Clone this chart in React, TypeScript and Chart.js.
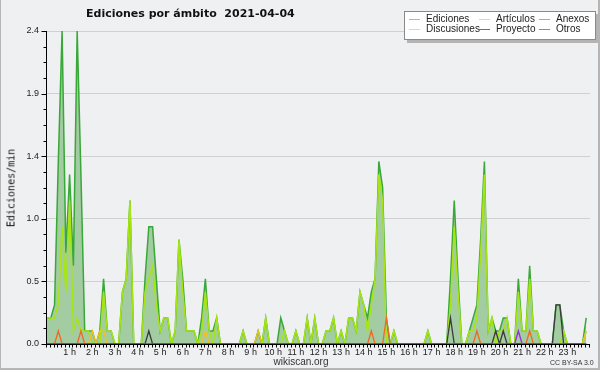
import React, { useEffect, useRef } from 'react';
import { Chart, registerables } from 'chart.js';

Chart.register(...registerables);

// 10-minute buckets, 00:00 .. 23:50, values in edits per minute
const ediciones = [
  0.2, 0.2, 0.3, 1.4, 2.4, 0.7, 1.3, 0.6, 2.4, 1.3, 0.1, 0.1,
  0.1, 0, 0.1, 0.5, 0.1, 0.1, 0, 0, 0.4, 0.5, 1.1, 0,
  0, 0, 0.5, 0.9, 0.9, 0.5, 0.1, 0.2, 0.2, 0, 0.1, 0.8,
  0.5, 0.1, 0.1, 0.1, 0, 0.2, 0.5, 0.1, 0.1, 0.2, 0, 0,
  0, 0, 0, 0, 0.1, 0, 0, 0, 0.1, 0, 0.2, 0,
  0, 0, 0.2, 0.1, 0, 0, 0.1, 0, 0, 0.2, 0, 0.2,
  0, 0, 0.1, 0.1, 0.2, 0, 0.1, 0, 0.2, 0.2, 0.1, 0.4,
  0.3, 0.2, 0.4, 0.5, 1.4, 1.2, 0.2, 0, 0.1, 0, 0, 0,
  0, 0, 0, 0, 0, 0.1, 0, 0, 0, 0, 0, 0.5,
  1.1, 0.5, 0, 0, 0.1, 0.2, 0.3, 0.8, 1.4, 0.1, 0.2, 0.1,
  0.1, 0.2, 0.2, 0, 0, 0.5, 0.1, 0.1, 0.6, 0.1, 0.1, 0,
  0, 0, 0, 0.3, 0.3, 0.1, 0, 0, 0, 0, 0, 0.2,
];

const articulos = [
  0.2, 0.2, 0.2, 0.3, 0.9, 0.4, 1.1, 0.1, 0.2, 0.1, 0.1, 0.1,
  0, 0, 0, 0.4, 0.1, 0.1, 0, 0, 0.4, 0.5, 1.1, 0,
  0, 0, 0.4, 0.5, 0.6, 0.3, 0.1, 0.2, 0.2, 0, 0.1, 0.8,
  0.4, 0.1, 0.1, 0.1, 0, 0.1, 0.4, 0.1, 0, 0.2, 0, 0,
  0, 0, 0, 0, 0.1, 0, 0, 0, 0, 0, 0.2, 0,
  0, 0, 0, 0.1, 0, 0, 0.1, 0, 0, 0.2, 0, 0.2,
  0, 0, 0.1, 0.1, 0.2, 0, 0.1, 0, 0.2, 0.2, 0.1, 0.4,
  0.3, 0.1, 0.3, 0.5, 1.3, 1.1, 0, 0, 0.1, 0, 0, 0,
  0, 0, 0, 0, 0, 0.1, 0, 0, 0, 0, 0, 0.3,
  0.9, 0.4, 0, 0, 0.1, 0.1, 0.2, 0.7, 1.3, 0.1, 0.2, 0,
  0.1, 0.1, 0.2, 0, 0, 0.4, 0.1, 0.1, 0.5, 0.1, 0.1, 0,
  0, 0, 0, 0, 0, 0.1, 0, 0, 0, 0, 0, 0.1,
];

const anexos = [
  0, 0, 0, 0.1, 0, 0, 0, 0, 0, 0.1, 0, 0,
  0, 0, 0, 0, 0, 0, 0, 0, 0, 0, 0, 0,
  0, 0, 0, 0, 0, 0, 0, 0, 0, 0, 0, 0,
  0, 0, 0, 0, 0, 0, 0, 0, 0, 0, 0, 0,
  0, 0, 0, 0, 0, 0, 0, 0, 0, 0, 0, 0,
  0, 0, 0, 0, 0, 0, 0, 0, 0, 0, 0, 0,
  0, 0, 0, 0, 0, 0, 0, 0, 0, 0, 0, 0,
  0, 0, 0.1, 0, 0, 0, 0.2, 0, 0, 0, 0, 0,
  0, 0, 0, 0, 0, 0, 0, 0, 0, 0, 0, 0,
  0, 0, 0, 0, 0, 0, 0.1, 0, 0, 0, 0, 0,
  0, 0, 0, 0, 0, 0, 0, 0, 0.1, 0, 0, 0,
  0, 0, 0, 0, 0, 0, 0, 0, 0, 0, 0, 0,
];

const discusiones = [
  0, 0, 0, 0, 0, 0, 0, 0, 0, 0, 0, 0,
  0.1, 0, 0.1, 0.1, 0, 0, 0, 0, 0, 0, 0, 0,
  0, 0, 0, 0, 0, 0, 0, 0, 0, 0, 0, 0,
  0, 0, 0, 0, 0, 0, 0.1, 0, 0, 0, 0, 0,
  0, 0, 0, 0, 0, 0, 0, 0, 0.1, 0, 0, 0,
  0, 0, 0, 0, 0, 0, 0, 0, 0, 0, 0, 0,
  0, 0, 0, 0, 0, 0, 0, 0, 0, 0, 0, 0,
  0, 0, 0, 0, 0, 0, 0, 0, 0, 0, 0, 0,
  0, 0, 0, 0, 0, 0, 0, 0, 0, 0, 0, 0,
  0, 0, 0, 0, 0, 0, 0, 0, 0, 0, 0, 0,
  0, 0, 0, 0, 0, 0, 0, 0, 0, 0, 0, 0,
  0, 0, 0, 0, 0, 0, 0, 0, 0, 0, 0, 0.1,
];

const proyecto = [
  0, 0, 0, 0, 0, 0, 0, 0, 0, 0, 0, 0,
  0, 0, 0, 0, 0, 0, 0, 0, 0, 0, 0, 0,
  0, 0, 0, 0.1, 0, 0, 0, 0, 0, 0, 0, 0,
  0, 0, 0, 0, 0, 0, 0, 0, 0, 0, 0, 0,
  0, 0, 0, 0, 0, 0, 0, 0, 0, 0, 0, 0,
  0, 0, 0, 0, 0, 0, 0, 0, 0, 0, 0, 0,
  0, 0, 0, 0, 0, 0, 0, 0, 0, 0, 0, 0,
  0, 0, 0, 0, 0, 0, 0, 0, 0, 0, 0, 0,
  0, 0, 0, 0, 0, 0, 0, 0, 0, 0, 0, 0.2,
  0, 0, 0, 0, 0, 0, 0, 0, 0, 0, 0, 0.1,
  0, 0.1, 0, 0, 0, 0, 0, 0, 0, 0, 0, 0,
  0, 0, 0, 0.3, 0.3, 0, 0, 0, 0, 0, 0, 0,
];

const otros = [
  0, 0, 0, 0, 0, 0, 0, 0, 0, 0, 0, 0,
  0, 0, 0, 0, 0, 0, 0, 0, 0, 0, 0, 0,
  0, 0, 0, 0, 0, 0, 0, 0, 0, 0, 0, 0,
  0, 0, 0, 0, 0, 0, 0, 0, 0, 0, 0, 0,
  0, 0, 0, 0, 0, 0, 0, 0, 0, 0, 0, 0,
  0, 0, 0, 0, 0, 0, 0, 0, 0, 0, 0, 0,
  0, 0, 0, 0, 0, 0, 0, 0, 0, 0, 0, 0,
  0, 0, 0, 0, 0, 0, 0, 0, 0, 0, 0, 0,
  0, 0, 0, 0, 0, 0, 0, 0, 0, 0, 0, 0,
  0, 0, 0, 0, 0, 0, 0, 0, 0, 0, 0, 0,
  0, 0, 0, 0, 0, 0.1, 0, 0, 0, 0, 0, 0,
  0, 0, 0, 0, 0, 0, 0, 0, 0, 0, 0, 0,
];

const hourLabels = [
  '1 h', '2 h', '3 h', '4 h', '5 h', '6 h', '7 h', '8 h', '9 h', '10 h', '11 h', '12 h',
  '13 h', '14 h', '15 h', '16 h', '17 h', '18 h', '19 h', '20 h', '21 h', '22 h', '23 h',
];

// y axis: major ticks every 0.48 (labelled), minor every 0.12
const yTickValues = [
  0, 0.12, 0.24, 0.36, 0.48, 0.6, 0.72, 0.84, 0.96, 1.08, 1.2,
  1.32, 1.44, 1.56, 1.68, 1.8, 1.92, 2.04, 2.16, 2.28, 2.4,
];
const yMax = 2.4;
const stepsPerHour = 6; // 10-minute buckets

const series = [
  { label: 'Ediciones', data: ediciones, color: '#38a838', legend: '#8fd08f', width: 1.5, order: 6 },
  { label: 'Artículos', data: articulos, color: '#a6e512', legend: '#c8f060', width: 1.5, order: 5 },
  { label: 'Anexos', data: anexos, color: '#f06a1e', legend: '#f5905a', width: 1.3, order: 3 },
  { label: 'Discusiones', data: discusiones, color: '#f2c21a', legend: '#f7d860', width: 1.3, order: 4 },
  { label: 'Proyecto', data: proyecto, color: '#3c3c3c', legend: '#707070', width: 1.3, order: 2 },
  { label: 'Otros', data: otros, color: '#9b2fe0', legend: '#a868f0', width: 1.3, order: 1 },
];

const legendLayout = [
  { label: 'Ediciones', col: 0, row: 0 },
  { label: 'Artículos', col: 1, row: 0 },
  { label: 'Anexos', col: 2, row: 0 },
  { label: 'Discusiones', col: 0, row: 1 },
  { label: 'Proyecto', col: 1, row: 1 },
  { label: 'Otros', col: 2, row: 1 },
];
const legendCols = [4, 74, 134];

const axisMarks = {
  id: 'axisMarks',
  afterDatasetsDraw(chart: any) {
    const { ctx, chartArea, scales } = chart;
    const xs = scales.x;
    const ys = scales.y;
    const L = Math.round(chartArea.left) - 0.5;
    const B = Math.round(chartArea.bottom) + 0.5;
    ctx.save();
    ctx.strokeStyle = '#000';
    ctx.lineWidth = 1;
    ctx.beginPath();
    ctx.moveTo(L, Math.round(chartArea.top));
    ctx.lineTo(L, B);
    ctx.lineTo(Math.round(chartArea.right), B);
    yTickValues.forEach((v, k) => {
      const y = Math.round(ys.getPixelForValue(v)) + 0.5;
      const len = k % 4 === 0 ? 5 : 3;
      ctx.moveTo(L - len, y);
      ctx.lineTo(L, y);
    });
    const nTicks = 24 * stepsPerHour;
    for (let k = 0; k <= nTicks; k++) {
      const x = Math.round(xs.getPixelForValue(k / stepsPerHour)) - 0.5;
      ctx.moveTo(x, B);
      ctx.lineTo(x, B + 3);
    }
    ctx.stroke();
    ctx.restore();
  },
};

export default function App() {
  const ref = useRef<HTMLCanvasElement>(null);

  useEffect(() => {
    document.body.style.margin = '0';
    const canvas = ref.current;
    if (!canvas) return;
    const toPoints = (arr: number[]) => arr.map((v, i) => ({ x: i / stepsPerHour, y: v }));
    const chart = new Chart(canvas, {
      type: 'line',
      data: {
        datasets: series.map((s, idx) => ({
          label: s.label,
          data: toPoints(s.data),
          borderColor: s.color,
          borderWidth: s.width,
          backgroundColor: idx === 0 ? '#a4cca2' : s.color,
          fill: idx === 0 ? 'origin' : false,
          pointRadius: 0,
          tension: 0,
          order: s.order,
        })),
      },
      options: {
        animation: false,
        responsive: false,
        devicePixelRatio: 1,
        layout: { padding: { left: 0, top: 31, right: 10, bottom: 6 } },
        plugins: {
          legend: { display: false },
          tooltip: { enabled: false },
          title: { display: false },
        },
        scales: {
          x: {
            type: 'linear',
            min: 0,
            max: 24,
            afterBuildTicks: (s: any) => {
              const t = [];
              for (let k = 0; k <= 24 * stepsPerHour; k++) t.push({ value: k / stepsPerHour });
              s.ticks = t;
            },
            afterFit: (s: any) => { s.height = 20; },
            ticks: {
              autoSkip: false,
              maxRotation: 0,
              minRotation: 0,
              padding: 3,
              color: '#222',
              font: { family: 'Liberation Sans', size: 9 },
              callback: (_v: any, idx: number) =>
                idx % stepsPerHour === 0 && idx > 0 && idx < 24 * stepsPerHour
                  ? hourLabels[idx / stepsPerHour - 1]
                  : '',
            },
            grid: { display: false, drawTicks: false },
            border: { display: false },
          },
          y: {
            min: 0,
            max: yMax,
            afterBuildTicks: (s: any) => { s.ticks = yTickValues.map((v) => ({ value: v })); },
            afterFit: (s: any) => { s.width = 47; },
            ticks: {
              autoSkip: false,
              padding: 8,
              color: '#222',
              font: { family: 'Liberation Sans', size: 9 },
              callback: (v: any, idx: number) => (idx % 4 === 0 ? Number(v).toFixed(1) : ''),
            },
            grid: {
              drawTicks: false,
              color: (c: any) => (c.index % 4 === 0 && c.index > 0 ? '#d0d0d0' : 'rgba(0,0,0,0)'),
              lineWidth: 1,
            },
            border: { display: false },
          },
        },
      },
      plugins: [axisMarks],
    } as any);
    return () => chart.destroy();
  }, []);

  const colorOf = (label: string) => series.find((s) => s.label === label)!.legend;

  return (
    <div
      style={{
        position: 'relative',
        width: 600,
        height: 370,
        background: '#eff0f1',
        boxSizing: 'border-box',
        borderLeft: '1px solid #b5b5b5',
        borderRight: '2px solid #b5b5b5',
        borderBottom: '2px solid #b5b5b5',
        overflow: 'hidden',
        fontFamily: 'Liberation Sans, sans-serif',
      }}
    >
      <canvas ref={ref} width={600} height={370} style={{ position: 'absolute', left: -1, top: 0 }} />
      <div
        style={{
          position: 'absolute',
          left: 85,
          top: 6,
          fontFamily: 'DejaVu Sans, sans-serif',
          fontWeight: 'bold',
          fontSize: 11,
          color: '#111',
          whiteSpace: 'pre',
          lineHeight: '16px',
        }}
      >
        {'Ediciones por ámbito  2021-04-04'}
      </div>
      <div
        style={{
          position: 'absolute',
          left: 403,
          top: 11,
          width: 190,
          height: 27,
          background: '#fff',
          border: '1px solid #8a8a8a',
          boxShadow: '3px 3px 0 #b4b4b4',
        }}
      >
        {legendLayout.map((it) => (
          <div key={it.label}>
            <div
              style={{
                position: 'absolute',
                left: legendCols[it.col],
                top: 7 + it.row * 10,
                width: 11,
                height: 1,
                background: colorOf(it.label),
              }}
            />
            <div
              style={{
                position: 'absolute',
                left: legendCols[it.col] + 17,
                top: 1 + it.row * 10,
                fontSize: 10,
                lineHeight: '12px',
                color: '#222',
                whiteSpace: 'nowrap',
              }}
            >
              {it.label}
            </div>
          </div>
        ))}
      </div>
      <div
        style={{
          position: 'absolute',
          left: 10,
          top: 188,
          transform: 'translate(-50%, -50%) rotate(-90deg)',
          fontFamily: 'DejaVu Sans Mono, monospace',
          fontSize: 10,
          color: '#111',
          whiteSpace: 'nowrap',
        }}
      >
        Ediciones/min
      </div>
      <div
        style={{
          position: 'absolute',
          left: 300,
          top: 356,
          transform: 'translateX(-50%)',
          fontSize: 10,
          lineHeight: '12px',
          color: '#333',
        }}
      >
        wikiscan.org
      </div>
      <div
        style={{
          position: 'absolute',
          left: 549,
          top: 358,
          fontSize: 7,
          lineHeight: '9px',
          color: '#333',
          whiteSpace: 'nowrap',
        }}
      >
        CC BY-SA 3.0
      </div>
    </div>
  );
}
